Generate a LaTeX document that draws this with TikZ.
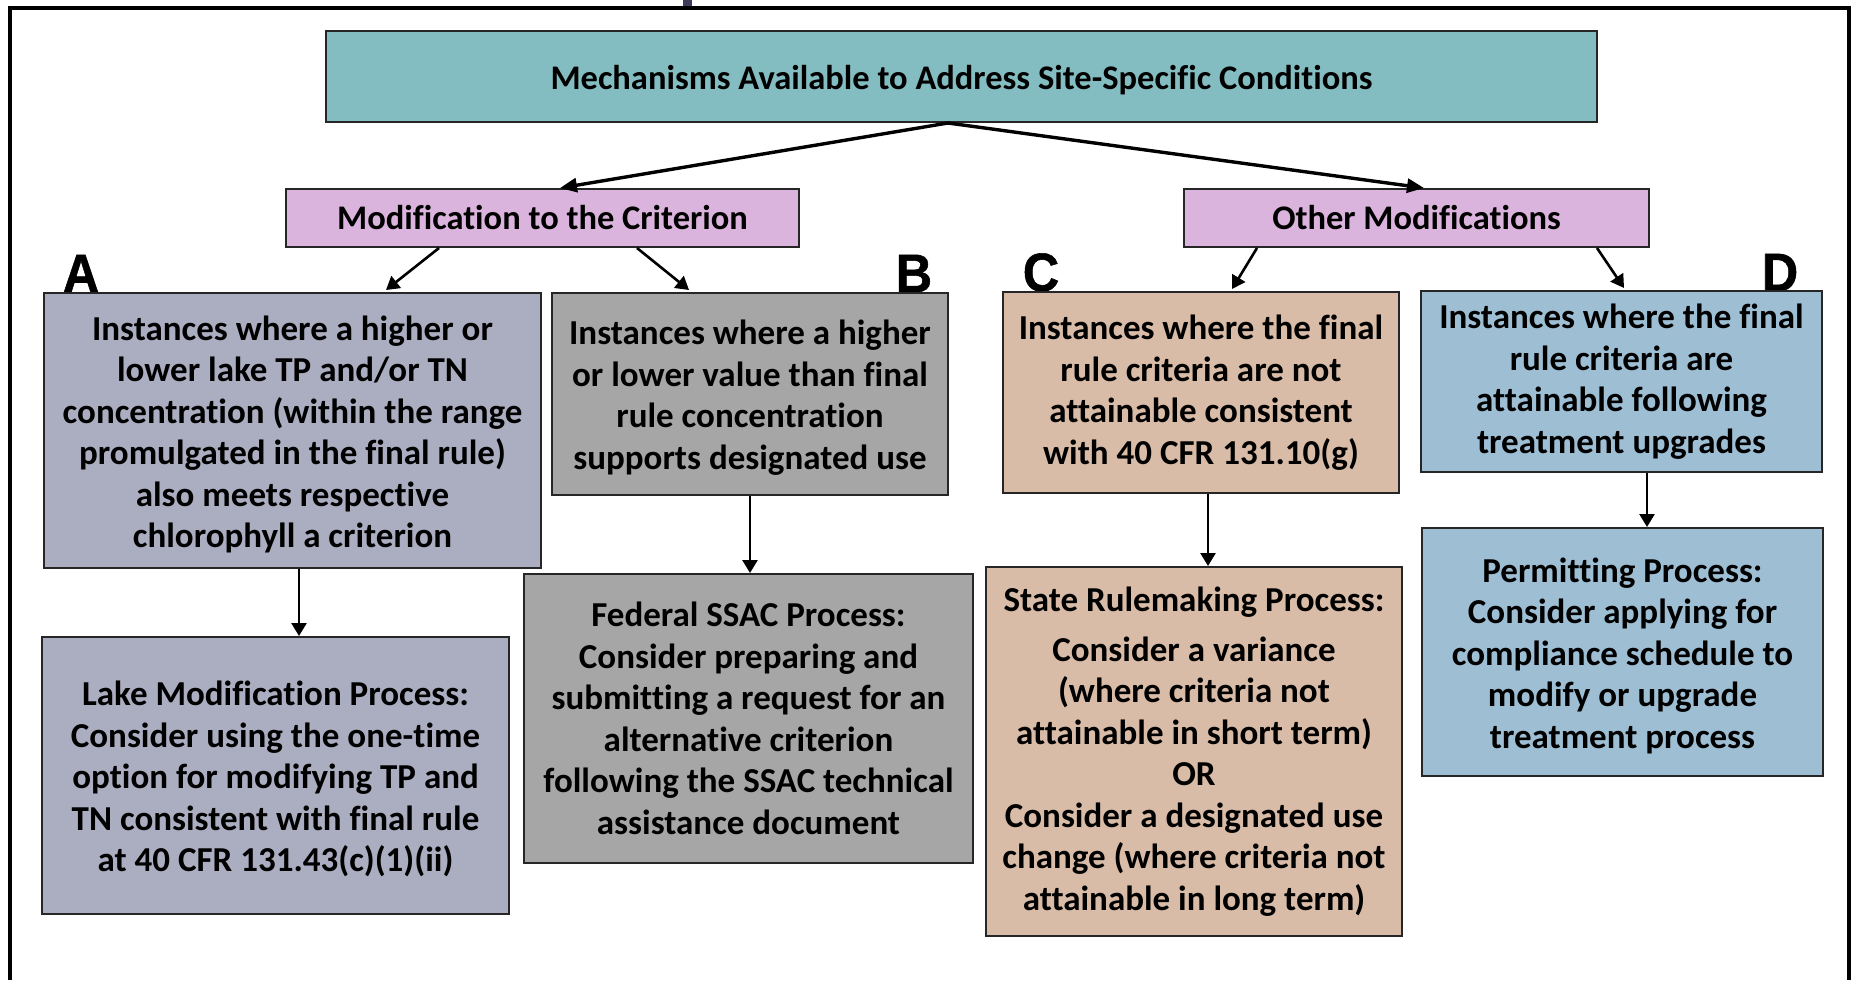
\documentclass[tikz,border=0pt]{standalone}
\usepackage{fontspec}
\setmainfont{Carlito}[Ligatures=NoCommon]
\newfontfamily\lettfont[FakeStretch=0.93,FakeBold=1]{Liberation Sans}
\usetikzlibrary{arrows.meta}
\newcommand{\topstrut}{\rule{0pt}{32pt}}
\definecolor{topcol}{RGB}{132,189,193}
\definecolor{headcol}{RGB}{218,180,220}
\definecolor{acol}{RGB}{171,173,193}
\definecolor{bcol}{RGB}{166,166,166}
\definecolor{ccol}{RGB}{217,188,167}
\definecolor{dcol}{RGB}{158,190,212}
\definecolor{barcol}{RGB}{60,60,90}
\begin{document}
\begin{tikzpicture}[x=1pt,y=-1pt,
    box/.style={draw=black!85,line width=2pt,align=center,inner sep=0pt,
      font=\fontsize{35}{41.5}\selectfont\bfseries},
    head/.style={box,fill=headcol,font=\fontsize{34.5}{40}\selectfont\bfseries},
    arr/.style={line width=2.6pt,-{Triangle[length=13pt,width=15pt]}},
    toparr/.style={line width=3.4pt,-{Triangle[length=17pt,width=14pt]}},
    letter/.style={font=\lettfont\bfseries\fontsize{54}{54}\selectfont,inner sep=0pt,anchor=base}]
  \useasboundingbox (0,0) rectangle (1854,980);
  \fill[barcol] (683,0) rectangle (692,7);
  \draw[line width=4pt] (10,980) -- (10,8) -- (1849,8) -- (1849,980);

  \node[letter] (labA) at (81,292) {A};
  \node[letter] (labB) at (914,292) {B};
  \node[letter] (labC) at (1041,291) {C};
  \node[letter] (labD) at (1780,291) {D};

  \node[box,fill=topcol,minimum width=1271pt,minimum height=91pt,
    font=\fontsize{34.5}{40}\selectfont\bfseries] (top) at (961.5,76.5)
    {\topstrut Mechanisms Available to Address Site-Specific Conditions};
  \node[head,minimum width=513pt,minimum height=58pt] (mod) at (542.5,218)
    {Modification to the Criterion};
  \node[head,minimum width=465pt,minimum height=58pt] (other) at (1416.5,218)
    {Other Modifications};

  \node[box,fill=acol,minimum width=497pt,minimum height=275pt] (boxA) at (292.5,430.5)
    {\topstrut Instances where a higher or\\lower lake TP and/or TN\\concentration (within the range\\promulgated in the final rule)\\also meets respective\\chlorophyll a criterion};
  \node[box,fill=bcol,minimum width=396pt,minimum height=202pt] (boxB) at (750,394)
    {\topstrut Instances where a higher\\or lower value than final\\rule concentration\\supports designated use};
  \node[box,fill=ccol,minimum width=396pt,minimum height=201pt] (boxC) at (1201,392.5)
    {Instances where the final\\rule criteria are not\\attainable consistent\\with 40 CFR 131.10(g)};
  \node[box,fill=dcol,minimum width=401pt,minimum height=181pt] (boxD) at (1621.5,381.5)
    {Instances where the final\\rule criteria are\\attainable following\\treatment upgrades};

  \node[box,fill=acol,minimum width=467pt,minimum height=277pt] (lakeA) at (275.5,775.5)
    {\topstrut Lake Modification Process:\\Consider using the one-time\\option for modifying TP and\\TN consistent with final rule\\at 40 CFR 131.43(c)(1)(ii)};
  \node[box,fill=bcol,minimum width=449pt,minimum height=289pt] (ssacB) at (748.5,718.5)
    {Federal SSAC Process:\\Consider preparing and\\submitting a request for an\\alternative criterion\\following the SSAC technical\\assistance document};
  \node[box,fill=ccol,minimum width=416pt,minimum height=369pt] (stateC) at (1194,751.5)
    {State Rulemaking Process:\\[8pt]Consider a variance\\(where criteria not\\attainable in short term)\\OR\\Consider a designated use\\change (where criteria not\\attainable in long term)};
  \node[box,fill=dcol,minimum width=401pt,minimum height=248pt] (permitD) at (1622.5,652)
    {\topstrut Permitting Process:\\Consider applying for\\compliance schedule to\\modify or upgrade\\treatment process};

  % top level
  \draw[toparr] ([xshift=-13.5pt]top.south) -- ([xshift=17.5pt]mod.north);
  \draw[toparr] ([xshift=-13.5pt]top.south) -- ([xshift=7.5pt]other.north);
  % second level
  \draw[arr] ([xshift=-103.5pt]mod.south) -- ([xshift=93.5pt,yshift=2pt]boxA.north);
  \draw[arr] ([xshift=94.5pt]mod.south) -- ([xshift=-61pt,yshift=2pt]boxB.north);
  \draw[arr] ([xshift=-159.5pt]other.south) -- ([xshift=31pt,yshift=2pt]boxC.north);
  \draw[arr] ([xshift=180.5pt]other.south) -- ([xshift=2.5pt,yshift=2pt]boxD.north);
  % down to processes
  \draw[arr] ([xshift=6.5pt]boxA.south) -- ([xshift=6.5pt]boxA.south |- lakeA.north);
  \draw[arr] (boxB.south) -- (boxB.south |- ssacB.north);
  \draw[arr] ([xshift=7pt]boxC.south) -- ([xshift=7pt]boxC.south |- stateC.north);
  \draw[arr] ([xshift=25.5pt]boxD.south) -- ([xshift=25.5pt]boxD.south |- permitD.north);
\end{tikzpicture}
\end{document}
